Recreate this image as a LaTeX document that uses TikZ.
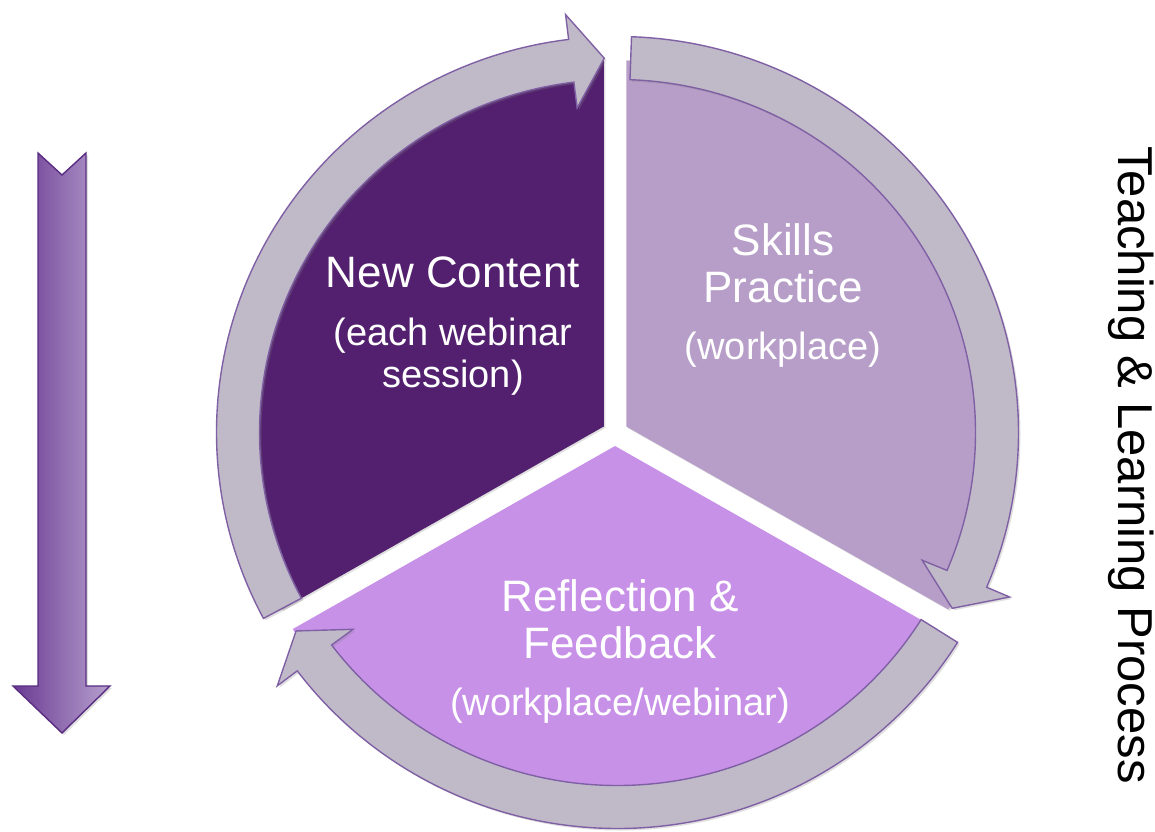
\documentclass[tikz,border=0pt]{standalone}
\usepackage{fontspec}
\setmainfont{Liberation Sans}
\usetikzlibrary{calc,shadows}
\definecolor{darkp}{RGB}{82,32,110}
\definecolor{skillp}{RGB}{183,158,200}
\definecolor{reflp}{RGB}{200,145,232}
\definecolor{bandfill}{RGB}{192,186,200}
\definecolor{bandline}{RGB}{128,96,165}
\definecolor{arrdark}{RGB}{106,58,146}
\definecolor{arrlight}{RGB}{182,160,206}
\definecolor{arrline}{RGB}{90,44,130}
\tikzset{
  wedge/.style={drop shadow={opacity=0.25,shadow xshift=1.5pt,shadow yshift=-1.5pt}},
  band/.style={fill=bandfill,draw=bandline,line width=1.4pt,line join=miter,
    drop shadow={opacity=0.25,shadow xshift=2pt,shadow yshift=-2pt}},
  lbl/.style={text=white,align=center,font=\fontsize{44}{47}\selectfont},
  sublbl/.style={text=white,align=center,font=\fontsize{38}{42}\selectfont}
}
\newcommand\cyclearrow[2]{%
  \path[band] ($(bc)+(#1:401 and 396)$)
    arc[start angle=#1,end angle=#2+5,x radius=401,y radius=396]
    -- ($(bc)+(#2+5:426 and 421)$)
    -- ($(bc)+(#2:379 and 374.5)$)
    -- ($(bc)+(#2+5:331 and 327)$)
    -- ($(bc)+(#2+5:358 and 353)$)
    arc[start angle=#2+5,end angle=#1,x radius=358,y radius=353]
    -- cycle;}
\newcommand\piewedge[3]{% colour, start angle, end angle
  \begin{scope}[shift={({(#2+#3)/2}:13)}]
  \fill[#1,wedge] (615,398) -- +(#2:372 and 366)
    arc[start angle=#2,end angle=#3,x radius=372,y radius=366] -- cycle;
  \end{scope}}
\begin{document}
\begin{tikzpicture}[x=1pt,y=1pt]
\useasboundingbox (0,0) rectangle (1155,831);
\coordinate (bc) at (617.5,398.5);
% pie wedges
\piewedge{darkp}{90}{210}
\piewedge{skillp}{-30}{90}
\piewedge{reflp}{210}{330}
% circular arrows
\cyclearrow{208}{92}
\cyclearrow{88}{-28}
\cyclearrow{-32}{-148}
% labels
\node[lbl] (nc) at (453,559) {New Content};
\node[sublbl] (ncs) at (453,474) {(each webinar\\session)};
\node[lbl] (sp) at (783,568) {Skills\\Practice};
\node[sublbl] (sps) at (783,481) {(workplace)};
\node[lbl] (rf) at (620,212) {Reflection \&\\Feedback};
\node[sublbl] (rfs) at (620,125) {(workplace/webinar)};
% vertical title
\node[rotate=-90,inner sep=0pt,font=\fontsize{49}{55}\selectfont] (title) at (1131,366) {Teaching \& Learning Process};
% left down arrow
\path[draw=arrline,line width=1.4pt,line join=miter,left color=arrdark,right color=arrlight,
  drop shadow={opacity=0.25,shadow xshift=2pt,shadow yshift=-2pt}]
  (38,678) -- (62,656) -- (86,678) -- (86,145) -- (110,145) -- (62,98)
  -- (13,145) -- (38,145) -- cycle;
\end{tikzpicture}
\end{document}
